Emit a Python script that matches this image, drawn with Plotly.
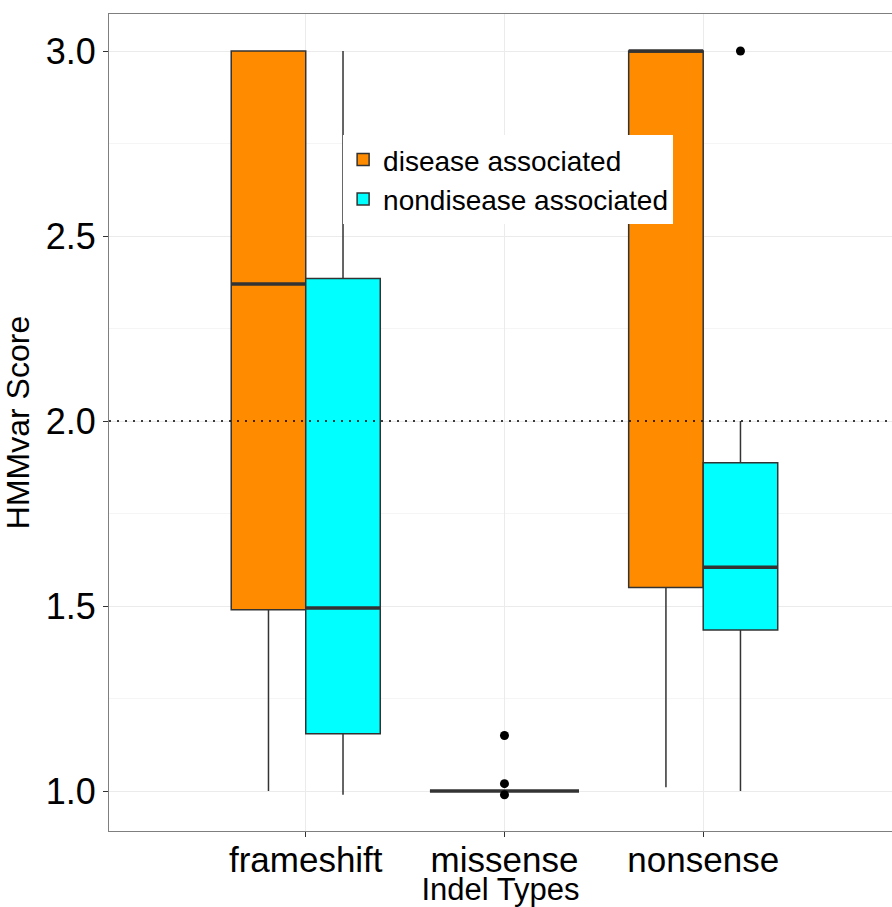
import plotly.graph_objects as go

# Indel categories and their positions on the x axis
categories = ["frameshift", "missense", "nonsense"]
cat_pos = [1, 2, 3]

# Precomputed box statistics: disease associated
dis_cats = ["frameshift", "nonsense"]
dis_lower = [1.00, 1.01]
dis_q1 = [1.49, 1.55]
dis_median = [2.37, 3.00]
dis_q3 = [3.00, 3.00]
dis_upper = [3.00, 3.00]

# Precomputed box statistics: nondisease associated
non_cats = ["frameshift", "nonsense"]
non_lower = [0.99, 1.00]
non_q1 = [1.155, 1.435]
non_median = [1.495, 1.605]
non_q3 = [2.385, 1.887]
non_upper = [3.00, 2.00]

# Missense has a single group, so its box spans the full dodge width
mis_lower = [1.00]
mis_q1 = [1.00]
mis_median = [1.00]
mis_q3 = [1.00]
mis_upper = [1.00]

# Outlying points
out_mis_vals = [1.15, 1.02, 0.99]
out_non_cats = ["nonsense"]
out_non_vals = [3.00]

threshold = 2.0

ORANGE = "#FF8C00"
CYAN = "#00FFFF"
EDGE = "#333333"
FONT = "Liberation Sans, Arial, sans-serif"

dodge = 0.75
half = dodge / 4  # centre offset of each dodged box
pos = dict(zip(categories, cat_pos))

fig = go.Figure()


def add_boxes(cats, lo, q1, med, q3, hi, offset, width, color, name, show):
    xs = [pos[c] + offset for c in cats]
    fig.add_trace(go.Box(
        x=xs, lowerfence=lo, q1=q1, median=med, q3=q3, upperfence=hi,
        width=width, fillcolor=color, line=dict(color=EDGE, width=1.5),
        whiskerwidth=0, name=name, legendgroup=name, showlegend=show,
        hoverinfo="skip",
    ))
    # thicker median bar, as drawn by the boxplot geom
    mx, my = [], []
    for x, m in zip(xs, med):
        mx += [x - width / 2, x + width / 2, None]
        my += [m, m, None]
    fig.add_trace(go.Scatter(
        x=mx, y=my, mode="lines", line=dict(color=EDGE, width=3.5),
        showlegend=False, hoverinfo="skip", legendgroup=name,
    ))


add_boxes(dis_cats, dis_lower, dis_q1, dis_median, dis_q3, dis_upper,
          -half, dodge / 2, ORANGE, "disease associated", True)
add_boxes(non_cats, non_lower, non_q1, non_median, non_q3, non_upper,
          half, dodge / 2, CYAN, "nondisease associated", True)
add_boxes(["missense"], mis_lower, mis_q1, mis_median, mis_q3, mis_upper,
          0, dodge, ORANGE, "disease associated", False)

# outliers
fig.add_trace(go.Scatter(
    x=[pos["missense"]] * len(out_mis_vals), y=out_mis_vals, mode="markers",
    marker=dict(color="black", size=9), showlegend=False, hoverinfo="skip",
))
fig.add_trace(go.Scatter(
    x=[pos[c] + half for c in out_non_cats], y=out_non_vals, mode="markers",
    marker=dict(color="black", size=9), showlegend=False, hoverinfo="skip",
))

# dotted reference line at the score threshold
fig.add_shape(type="line", xref="paper", x0=0, x1=1, yref="y",
              y0=threshold, y1=threshold, layer="above",
              line=dict(color="black", width=1.6, dash="2px,6px"))

fig.update_layout(
    width=892, height=907,
    margin=dict(l=109, r=0, t=14, b=76),
    paper_bgcolor="white", plot_bgcolor="white",
    font=dict(family=FONT, color="black"),
    boxmode="overlay",
    showlegend=True,
    legend=dict(
        x=0.299, y=0.852, xanchor="left", yanchor="top",
        bgcolor="white", borderwidth=0,
        font=dict(family=FONT, size=28, color="black"),
        tracegroupgap=0, itemwidth=30,
    ),
    xaxis=dict(
        range=[0.01, 3.95], tickmode="array", tickvals=cat_pos,
        ticktext=categories, tickfont=dict(size=35, family=FONT),
        ticks="outside", ticklen=5, tickcolor="#333333",
        ticklabelstandoff=-7,
        showgrid=True, gridcolor="#ebebeb", gridwidth=1,
        showline=True, linecolor="#7f7f7f", linewidth=1, mirror=True,
        zeroline=False, automargin=False,
        title=dict(text="Indel Types", font=dict(size=31, family=FONT),
                   standoff=10),
    ),
    yaxis=dict(
        range=[0.892, 3.1], tickmode="array",
        tickvals=[1.0, 1.5, 2.0, 2.5, 3.0],
        ticktext=["1.0", "1.5", "2.0", "2.5", "3.0"],
        tickfont=dict(size=36, family=FONT),
        ticks="outside", ticklen=5, tickcolor="#333333",
        showgrid=True, gridcolor="#ebebeb", gridwidth=1,
        minor=dict(tickvals=[0.75, 1.25, 1.75, 2.25, 2.75],
                   showgrid=True, gridcolor="#f5f5f5", gridwidth=1),
        showline=True, linecolor="#7f7f7f", linewidth=1, mirror=True,
        zeroline=False, automargin=False,
        title=dict(text="HMMvar Score", font=dict(size=32, family=FONT),
                   standoff=6),
    ),
)

fig.write_html("out.html")
